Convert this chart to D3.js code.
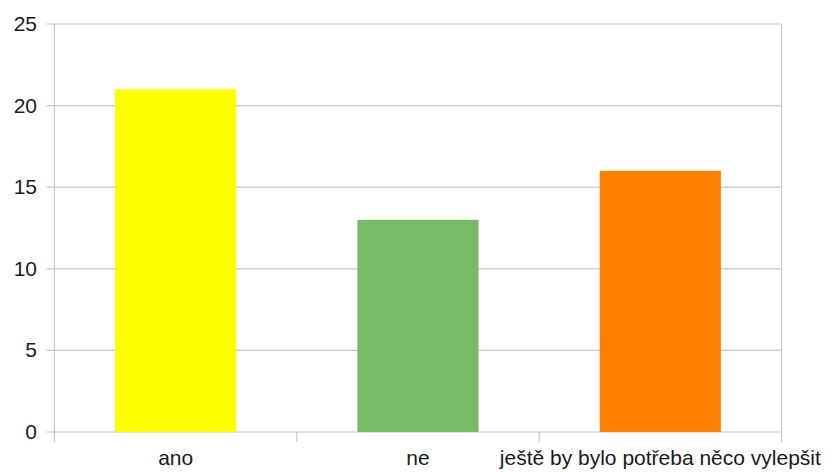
<!DOCTYPE html>
<html><head><meta charset="utf-8">
<script src="https://cdn.jsdelivr.net/npm/d3@7"></script>
<style>body{margin:0;background:#fff}svg{display:block}</style>
</head><body>
<script>
const categories = ["ano", "ne", "ještě by bylo potřeba něco vylepšit"];
const values = [21, 13, 16];
const colors = ["#ffff00", "#77bc65", "#ff8000"];
const yTicks = [0, 5, 10, 15, 20, 25];

const W = 832, H = 472;
const m = {left: 54.5, right: 50.5, top: 24, bottom: 40};
const svg = d3.select("body").append("svg").attr("width", W).attr("height", H);
const x = d3.scaleBand().domain(categories).range([m.left, W - m.right]).paddingInner(0).paddingOuter(0);
const y = d3.scaleLinear().domain([0, 25]).range([H - m.bottom, m.top]);
const grid = "#c8c8c8";
const font = "Liberation Sans, Arial, sans-serif";

// gridlines
svg.append("g").selectAll("line").data(yTicks).join("line")
  .attr("x1", m.left - 8).attr("x2", W - m.right)
  .attr("y1", d => y(d)).attr("y2", d => y(d))
  .attr("stroke", grid).attr("stroke-width", 1.2);
// left and right borders
svg.append("line").attr("x1", m.left).attr("x2", m.left).attr("y1", m.top).attr("y2", H - m.bottom + 10)
  .attr("stroke", grid).attr("stroke-width", 1.2);
svg.append("line").attr("x1", W - m.right).attr("x2", W - m.right).attr("y1", m.top).attr("y2", H - m.bottom + 10)
  .attr("stroke", grid).attr("stroke-width", 1.2);
// category separator ticks
svg.append("g").selectAll("line").data(categories.slice(1)).join("line")
  .attr("x1", d => x(d)).attr("x2", d => x(d))
  .attr("y1", H - m.bottom).attr("y2", H - m.bottom + 10)
  .attr("stroke", grid).attr("stroke-width", 1.2);

// bars
const bw = x.bandwidth() * 0.5;
svg.append("g").selectAll("rect").data(values).join("rect")
  .attr("x", (d, i) => x(categories[i]) + (x.bandwidth() - bw) / 2)
  .attr("width", bw)
  .attr("y", d => y(d))
  .attr("height", d => y(0) - y(d))
  .attr("fill", (d, i) => colors[i]);

// y labels
svg.append("g").selectAll("text").data(yTicks).join("text")
  .attr("x", 37).attr("y", d => y(d) + 7)
  .attr("text-anchor", "end").attr("font-family", font).attr("font-size", 21).attr("fill", "#1a1a1a")
  .text(d => d);

// x labels
svg.append("g").selectAll("text").data(categories).join("text")
  .attr("x", d => x(d) + x.bandwidth() / 2).attr("y", 465)
  .attr("text-anchor", "middle").attr("font-family", font).attr("font-size", 21).attr("fill", "#1a1a1a")
  .text(d => d)
  .each(function() {
    const bb = this.getBBox();
    if (bb.x + bb.width > W - 10) d3.select(this).attr("x", +d3.select(this).attr("x") - (bb.x + bb.width - (W - 10)));
  });
</script>
</body></html>
